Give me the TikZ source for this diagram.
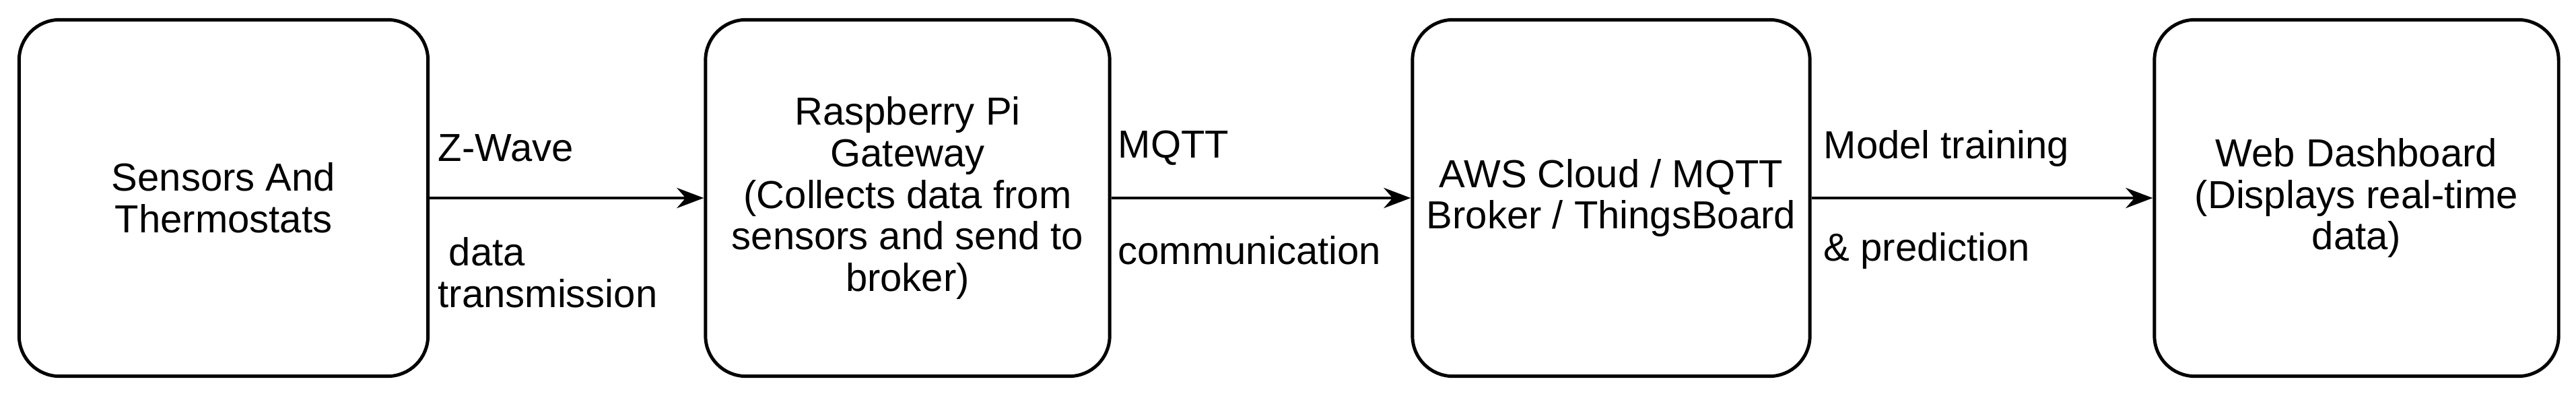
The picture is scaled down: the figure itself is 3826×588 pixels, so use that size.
\documentclass[tikz,border=0pt]{standalone}
\usepackage{fontspec}
\setmainfont{Liberation Sans}
\usetikzlibrary{arrows.meta}
\begin{document}
\begin{tikzpicture}[x=0.01cm,y=-0.01cm,
  box/.style={draw,line width=1.4pt,rounded corners=0.6cm,minimum width=6cm,minimum height=5.29cm,align=center,font=\fontsize{16.5}{17.5}\selectfont},
  lbl/.style={anchor=west,align=left,font=\fontsize{16.5}{17.5}\selectfont,inner sep=0pt},
  conn/.style={line width=1.4pt,-{Stealth[length=0.4cm,width=0.3cm]}}]
\useasboundingbox (0,0) rectangle (3826,588);
\node[box,minimum width=6.07cm] (a) at (332,294) {Sensors And\\Thermostats};
\node[box] (b) at (1348,294) {Raspberry Pi\\Gateway\\(Collects data from\\sensors and send to\\broker)};
\node[box,minimum width=5.9cm] (c) at (2393,294) {AWS Cloud / MQTT\\Broker / ThingsBoard};
\node[box] (d) at (3500,294) {Web Dashboard\\(Displays real-time\\data)};
\draw[conn] (a) -- (b);
\draw[conn] (b) -- (c);
\draw[conn] (c) -- (d);
\node[lbl] (l1) at (650,220) {Z-Wave};
\node[lbl] (l2) at (650,405) {\ data\\transmission};
\node[lbl] (l3) at (1660,220) {MQTT};
\node[lbl] (l4) at (1660,372) {communication};
\node[lbl] (l5) at (2708,220) {Model training};
\node[lbl] (l6) at (2708,372) {\& prediction};
\end{tikzpicture}
\end{document}
